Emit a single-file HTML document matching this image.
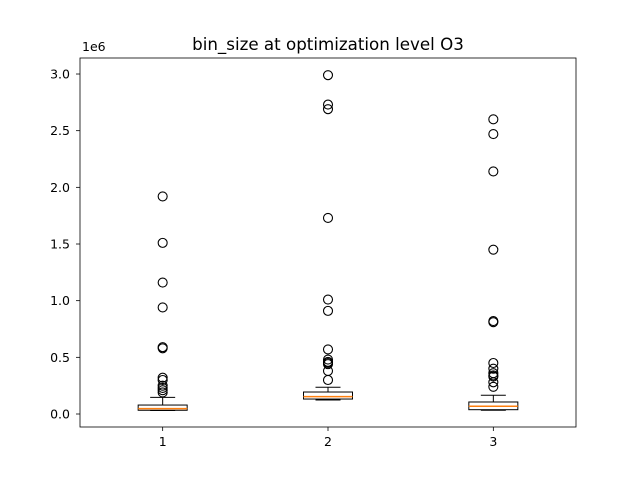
<!DOCTYPE html>
<html><head><meta charset="utf-8"><style>
body{margin:0;background:#fff}
svg text{font-family:"DejaVu Sans","Liberation Sans",sans-serif;fill:#000}
</style></head><body>
<svg id="chart" width="640" height="480" xmlns="http://www.w3.org/2000/svg"></svg>
<script>
const categories=["1","2","3"];
const q1s=[0.033,0.132,0.038];
const medians=[0.047,0.153,0.068];
const q3s=[0.079,0.194,0.106];
const whiskerLows=[0.031,0.124,0.033];
const whiskerHighs=[0.147,0.236,0.165];
const outliers=[
 [1.92,1.51,1.16,0.94,0.59,0.58,0.32,0.30,0.25,0.23,0.21,0.19],
 [2.99,2.73,2.69,1.73,1.01,0.91,0.57,0.48,0.46,0.45,0.44,0.38,0.30],
 [2.60,2.47,2.14,1.45,0.82,0.81,0.45,0.40,0.36,0.34,0.33,0.28,0.24]
];
const yTicks=[0,0.5,1.0,1.5,2.0,2.5,3.0];
const yTickLabels=["0.0","0.5","1.0","1.5","2.0","2.5","3.0"];

const L=80,R=576,T=58,B=427;
const y=v=>414-v*113.33;
const x=i=>L+(R-L)*(i+0.5)/categories.length;
const svg=document.getElementById('chart');
const NS="http://www.w3.org/2000/svg";
function mk(tag,attrs,parent){const e=document.createElementNS(NS,tag);for(const k in attrs)e.setAttribute(k,attrs[k]);(parent||svg).appendChild(e);return e;}

const title=mk('text',{x:328,y:50,'text-anchor':'middle','font-size':16.7});
title.textContent='bin_size at optimization level O3';


const exp=mk('text',{x:82,y:51,'font-size':12.5});
exp.textContent='1e6';



yTicks.forEach((v,i)=>{
 const g=mk('g',{});
 
 
 mk('line',{x1:L-4,x2:L,y1:y(v),y2:y(v),stroke:'#000','stroke-width':0.8},g);
 const t=mk('text',{x:L-10,y:y(v)+4.5,'text-anchor':'end','font-size':12.5},g);
 t.textContent=yTickLabels[i];
});
categories.forEach((c,i)=>{
 const cx=x(i);
 const g=mk('g',{});
 
 
 mk('line',{x1:cx,x2:cx,y1:B,y2:B+4,stroke:'#000','stroke-width':0.8},g);
 const t=mk('text',{x:cx,y:B+19,'text-anchor':'middle','font-size':12.5},g);
 t.textContent=c;

 const b=mk('g',{});
 
 
 const hw=24.5,cw=12.5;
 mk('line',{x1:cx,x2:cx,y1:y(q3s[i]),y2:y(whiskerHighs[i]),stroke:'#000'},b);
 mk('line',{x1:cx,x2:cx,y1:y(q1s[i]),y2:y(whiskerLows[i]),stroke:'#000'},b);
 mk('line',{x1:cx-cw,x2:cx+cw,y1:y(whiskerHighs[i]),y2:y(whiskerHighs[i]),stroke:'#000'},b);
 mk('line',{x1:cx-cw,x2:cx+cw,y1:y(whiskerLows[i]),y2:y(whiskerLows[i]),stroke:'#000'},b);
 mk('rect',{x:cx-hw,y:y(q3s[i]),width:2*hw,height:y(q1s[i])-y(q3s[i]),fill:'none',stroke:'#000'},b);
 mk('line',{x1:cx-hw,x2:cx+hw,y1:y(medians[i]),y2:y(medians[i]),stroke:'#ff7f0e','stroke-width':1.5},b);
 outliers[i].forEach(v=>{
  const o=mk('circle',{cx:cx,cy:y(v),r:4.5,fill:'none',stroke:'#000','stroke-width':1.1},b);
  
  
 });
});
const frame=mk('rect',{x:L,y:T,width:R-L,height:B-T,fill:'none',stroke:'#000','stroke-width':0.8});


</script>
</body></html>
